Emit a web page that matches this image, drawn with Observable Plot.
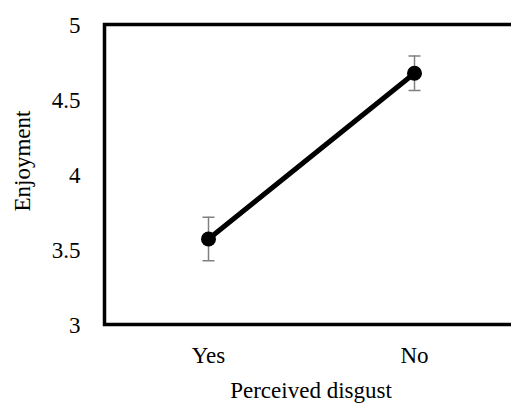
<!DOCTYPE html>
<html>
<head>
<meta charset="utf-8">
<script src="https://cdn.jsdelivr.net/npm/d3@7"></script>
<script src="https://cdn.jsdelivr.net/npm/@observablehq/plot@0.6"></script>
<style>
html, body { margin: 0; padding: 0; background: white; overflow: hidden; }
#chart { width: 511px; height: 405px; overflow: hidden; }
#chart svg, #chart svg text { font-family: "Liberation Serif", "Times New Roman", serif !important; }
</style>
</head>
<body>
<div id="chart"></div>
<script>
const categories = ["Yes", "No"];
const means = [3.57, 4.675];
const upperErr = [3.715, 4.79];
const lowerErr = [3.425, 4.56];
const yTicks = [3, 3.5, 4, 4.5, 5];
const xLabel = "Perceived disgust";
const yLabel = "Enjoyment";

const data = categories.map((c, i) => ({cat: c, mean: means[i], hi: upperErr[i], lo: lowerErr[i]}));

const capSymbol = {draw(context) { context.moveTo(-6, 0); context.lineTo(6, 0); }};
const serif = "Liberation Serif, serif";
const fs = 23;

const chart = Plot.plot({
  width: 518,
  height: 405,
  marginLeft: 104,
  marginRight: 1,
  marginTop: 24,
  marginBottom: 81,
  style: "font-family: 'Liberation Serif', serif; font-size: 23px; color: black; background: white; max-width: none; overflow: hidden;",
  x: {type: "point", domain: categories, padding: 0.5, label: null},
  y: {domain: [3, 5], label: null},
  marks: [
    Plot.axisY({ticks: yTicks, tickSize: 0, tickPadding: 24, dy: 1, tickFormat: d => String(d), fontSize: fs, fontFamily: serif, label: null}),
    Plot.axisX({tickSize: 0, tickPadding: 22, fontSize: fs, fontFamily: serif, label: null}),
    Plot.ruleX(data, {x: "cat", y1: "lo", y2: "hi", stroke: "#808080", strokeWidth: 1.5}),
    Plot.dot(data, {x: "cat", y: "hi", symbol: capSymbol, fill: "none", stroke: "#808080", strokeWidth: 1.5}),
    Plot.dot(data, {x: "cat", y: "lo", symbol: capSymbol, fill: "none", stroke: "#808080", strokeWidth: 1.5}),
    Plot.line(data, {x: "cat", y: "mean", stroke: "black", strokeWidth: 5}),
    Plot.dot(data, {x: "cat", y: "mean", r: 7.5, fill: "black", stroke: "none"}),
    Plot.frame({stroke: "black", strokeWidth: 3.5}),
    Plot.text([yLabel], {frameAnchor: "left", dx: -82, dy: -13.5, rotate: -90, textAnchor: "middle", lineAnchor: "middle", fontSize: fs, fontFamily: serif, fill: "black"}),
    Plot.text([xLabel], {frameAnchor: "bottom", dy: 66.5, textAnchor: "middle", lineAnchor: "middle", fontSize: fs, fontFamily: serif, fill: "black"})
  ]
});
document.getElementById("chart").appendChild(chart);
</script>
</body>
</html>
